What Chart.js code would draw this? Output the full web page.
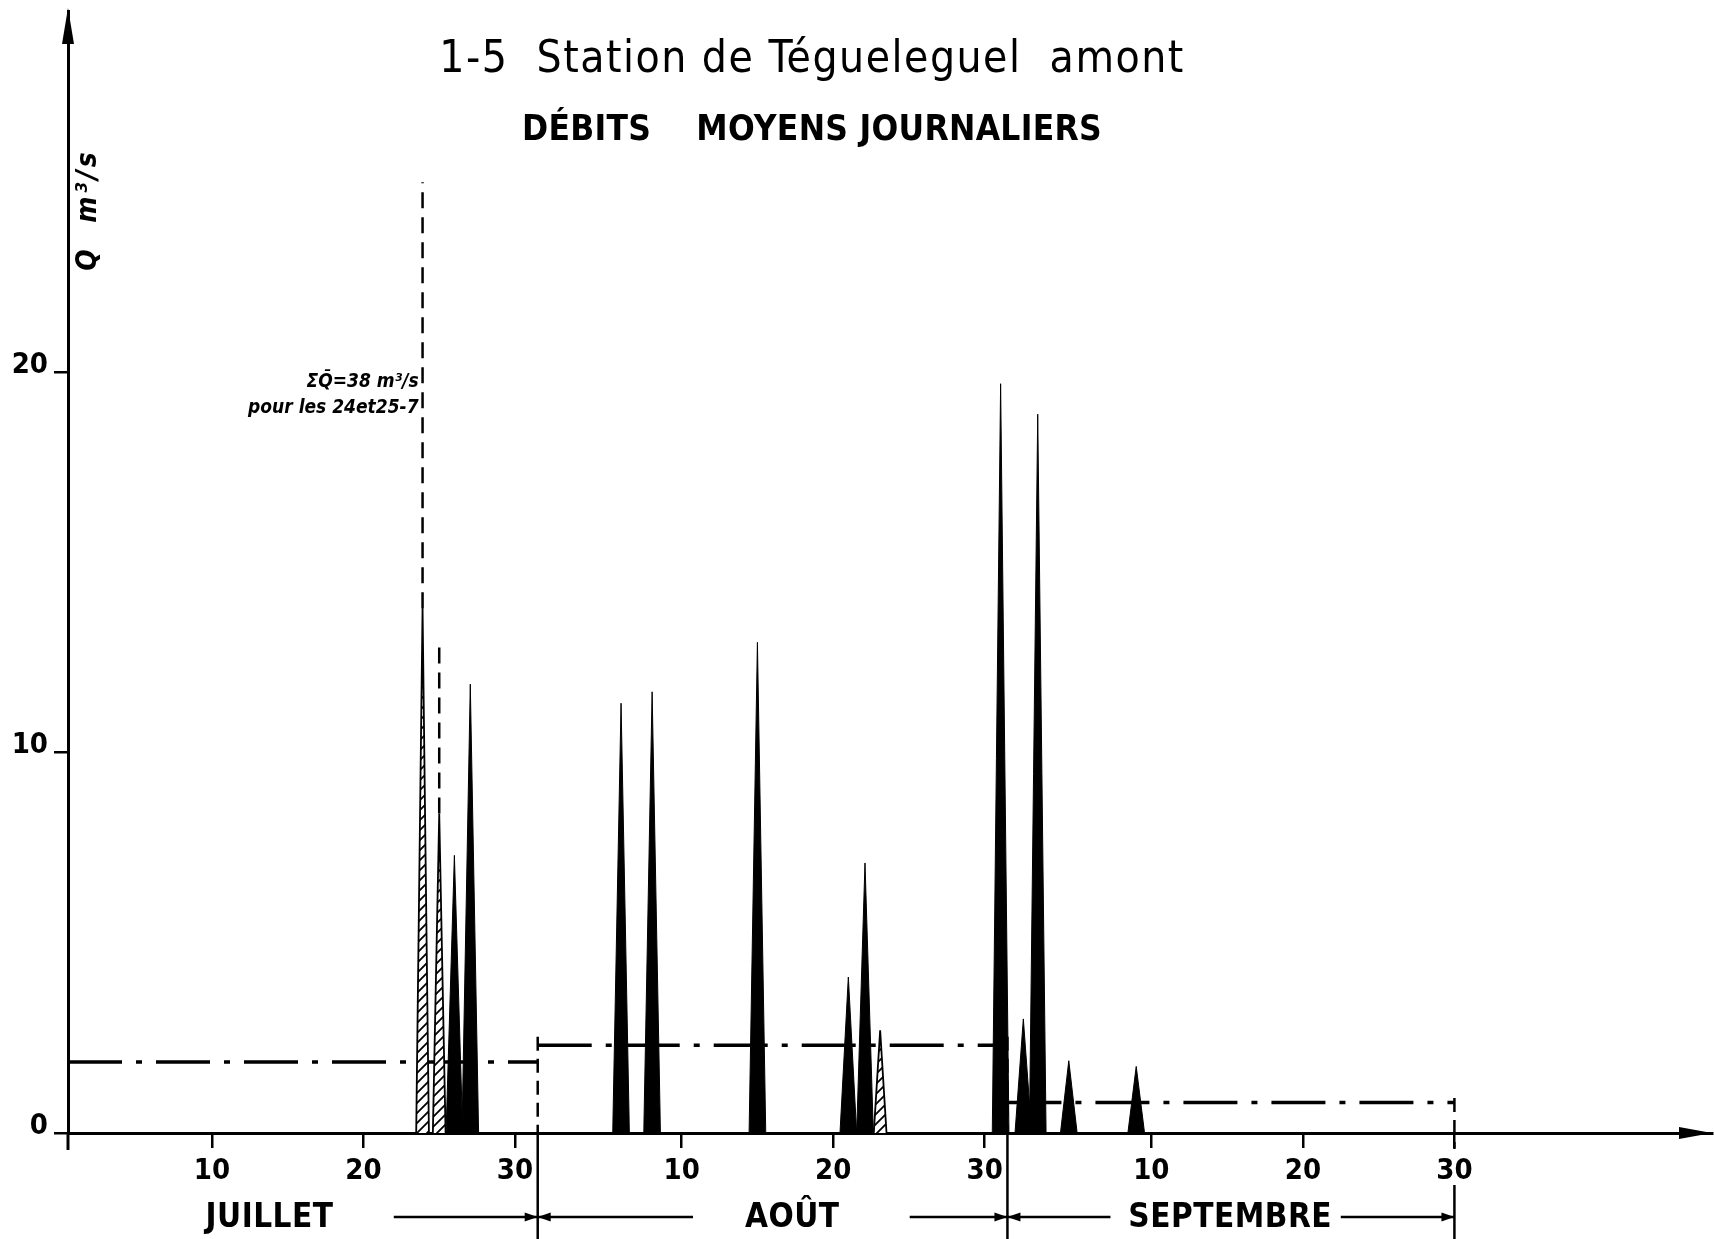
<!DOCTYPE html>
<html><head><meta charset="utf-8">
<script src="https://cdn.jsdelivr.net/npm/chart.js@4/dist/chart.umd.min.js"></script>
<style>html,body{margin:0;padding:0;background:#fff;} #wrap{width:1714px;height:1239px;position:relative;}</style>
</head><body><div id="wrap"><canvas id="c" width="1714" height="1239"></canvas></div>
<script>
// ---- data (x = day index counted from 1 July) ----
const spikeDays    = [23.9, 25.0, 26.0, 27.05, 37.0, 39.05, 46.0, 52.0, 53.1, 54.1, 62.05, 63.55, 64.5, 66.55, 71.0];
const spikeFlows   = [13.8, 8.4, 7.3, 11.8, 11.3, 11.6, 12.9, 4.1, 7.1, 2.7, 19.7, 3.0, 18.9, 1.9, 1.75];
const spikeHatched = [true, true, false, false, false, false, false, false, false, true, false, false, false, false, false];
const offScaleDays  = [23.9, 25.0];
const offScaleFlows = [25.0, 13.0];
const monthNames   = ['JUILLET', 'AOÛT', 'SEPTEMBRE'];
const monthStarts  = [0.5, 31.5, 62.5];
const monthEnds    = [31.5, 62.5, 92];
const monthlyMeans = [1.87, 2.31, 0.8];
const xTickValues  = [10, 20, 30, 41, 51, 61, 72, 82, 92];
const xTickLabels  = ['10', '20', '30', '10', '20', '30', '10', '20', '30'];
const yTickValues  = [0, 10, 20];
const yTickLabels  = ['0', '10', '20'];
const titleText    = '1-5  Station de Tégueleguel  amont';
const subtitleText = 'DÉBITS    MOYENS JOURNALIERS';
const yTitleText   = 'Q  m³/s';
const noteLines    = ['ΣQ̄=38 m³/s', 'pour les 24et25-7'];

// ---- styles ----
const FONT = "'Liberation Sans Narrow', 'DejaVu Sans Condensed', 'Liberation Sans', sans-serif";
const SOLID_HW = 0.55, HATCH_HW = 0.42;
const canvas = document.getElementById('c');
const ctx0 = canvas.getContext('2d');

function makeHatch() {
  const s = 10;
  const c = document.createElement('canvas'); c.width = s; c.height = s;
  const g = c.getContext('2d');
  g.fillStyle = '#fff'; g.fillRect(0, 0, s, s);
  g.strokeStyle = '#000'; g.lineWidth = 1.8;
  g.beginPath();
  g.moveTo(-1, s + 1); g.lineTo(s + 1, -1);
  g.moveTo(-1, 1); g.lineTo(1, -1);
  g.moveTo(s - 1, s + 1); g.lineTo(s + 1, s - 1);
  g.stroke();
  return ctx0.createPattern(c, 'repeat');
}
const hatch = makeHatch();

const datasets = [];
monthlyMeans.forEach((m, i) => {
  datasets.push({
    data: [{x: monthStarts[i], y: m}, {x: monthEnds[i], y: m}],
    borderColor: '#000', borderWidth: 3.5, borderDash: [54, 14, 6, 14],
    borderCapStyle: 'butt', pointRadius: 0, fill: false, order: 10
  });
});
spikeDays.forEach((d, i) => {
  const h = spikeHatched[i];
  const hw = h ? HATCH_HW : SOLID_HW;
  datasets.push({
    data: [{x: d - hw, y: 0}, {x: d, y: spikeFlows[i]}, {x: d + hw, y: 0}],
    borderColor: '#000', borderWidth: h ? 1.8 : 1,
    backgroundColor: h ? hatch : '#000',
    fill: 'origin', pointRadius: 0, tension: 0, order: h ? 4 : 5
  });
});
offScaleDays.forEach((d, i) => {
  const k = spikeDays.indexOf(d);
  datasets.push({
    data: [{x: d, y: k >= 0 ? spikeFlows[k] : 0}, {x: d, y: offScaleFlows[i]}],
    borderColor: '#000', borderWidth: 2.5, borderDash: [16, 9],
    pointRadius: 0, fill: false, order: 3
  });
});

function arrowLine(ctx, x0, x1, yy) {
  ctx.beginPath(); ctx.moveTo(x0, yy); ctx.lineTo(x1, yy); ctx.stroke();
  const dir = Math.sign(x1 - x0);
  ctx.beginPath();
  ctx.moveTo(x1, yy); ctx.lineTo(x1 - dir * 13, yy - 4.5); ctx.lineTo(x1 - dir * 13, yy + 4.5);
  ctx.closePath(); ctx.fill();
}

const monthLabelCenters = [13.8, 48.3, 77.2];
const monthArrows = [
  [[22.0, 31.5]],
  [[41.75, 31.5], [56.05, 62.5]],
  [[69.3, 62.5], [84.5, 92]]
];

const decor = {
  id: 'decor',
  beforeDatasetsDraw(chart) {
    const {ctx, chartArea: a, scales: {x, y}} = chart;
    ctx.save();
    ctx.strokeStyle = '#000'; ctx.lineWidth = 2.5; ctx.setLineDash([14, 8]);
    const tops = [Math.max(monthlyMeans[0], monthlyMeans[1]) + 0.22,
                  Math.max(monthlyMeans[1], monthlyMeans[2]) + 0.22,
                  monthlyMeans[2] + 0.12];
    monthEnds.forEach((e, i) => {
      const px = x.getPixelForValue(e);
      ctx.beginPath();
      ctx.moveTo(px, y.getPixelForValue(tops[i]));
      ctx.lineTo(px, a.bottom + (i === 2 ? 16 : 0));
      ctx.stroke();
    });
    ctx.restore();
  },
  afterDraw(chart) {
    const {ctx, chartArea: a, scales: {x, y}} = chart;
    const H = chart.height;
    ctx.save();
    ctx.fillStyle = '#000'; ctx.strokeStyle = '#000';
    // axis arrows
    ctx.beginPath();
    ctx.moveTo(a.left, a.top - 3); ctx.lineTo(a.left - 6, a.top + 33); ctx.lineTo(a.left + 6, a.top + 33);
    ctx.closePath(); ctx.fill();
    ctx.beginPath();
    ctx.moveTo(a.right, a.bottom); ctx.lineTo(a.right - 33, a.bottom - 6); ctx.lineTo(a.right - 33, a.bottom + 6);
    ctx.closePath(); ctx.fill();
    // y-axis extension below the origin
    ctx.lineWidth = 3;
    ctx.beginPath(); ctx.moveTo(a.left, a.bottom); ctx.lineTo(a.left, a.bottom + 17); ctx.stroke();
    // month separators below axis
    ctx.lineWidth = 2.5;
    monthEnds.forEach((e, i) => {
      const px = x.getPixelForValue(e);
      ctx.beginPath();
      ctx.moveTo(px, i === 2 ? a.bottom + 52 : a.bottom);
      ctx.lineTo(px, H);
      ctx.stroke();
    });
    // month labels and arrows
    const rowY = a.bottom + 84;
    ctx.font = 'bold 33px ' + FONT;
    ctx.letterSpacing = '0.5px';
    ctx.textAlign = 'center'; ctx.textBaseline = 'alphabetic';
    monthNames.forEach((n, i) => {
      ctx.fillText(n, x.getPixelForValue(monthLabelCenters[i]), a.bottom + 94);
      monthArrows[i].forEach(([s, e]) => arrowLine(ctx, x.getPixelForValue(s), x.getPixelForValue(e), rowY));
    });
    // titles
    ctx.letterSpacing = '1.5px';
    ctx.font = '44px ' + FONT;
    ctx.fillText(titleText, 812, 72);
    ctx.letterSpacing = '0.3px';
    ctx.font = 'bold 35px ' + FONT;
    ctx.fillText(subtitleText, 812, 140);
    // y axis title (rotated)
    ctx.save();
    ctx.translate(96, 210);
    ctx.rotate(-Math.PI / 2);
    ctx.letterSpacing = '3px';
    ctx.font = 'italic bold 28px ' + FONT;
    ctx.fillText(yTitleText, 0, 0);
    ctx.restore();
    // note near the off-scale days
    ctx.letterSpacing = '0px';
    ctx.textAlign = 'right';
    ctx.font = 'italic bold 19px ' + FONT;
    const nx = x.getPixelForValue(offScaleDays[0]) - 4;
    ctx.fillText(noteLines[0], nx, 387);
    ctx.fillText(noteLines[1], nx, 413);
    ctx.restore();
  }
};

new Chart(canvas, {
  type: 'line',
  data: {datasets},
  plugins: [decor],
  options: {
    responsive: false, animation: false, devicePixelRatio: 1,
    layout: {padding: {top: 11, right: 2, left: 0, bottom: 0}},
    plugins: {legend: {display: false}, tooltip: {enabled: false}, title: {display: false}},
    scales: {
      x: {
        type: 'linear', min: 0.5, max: 109,
        afterFit(s) { s.height = 106; s.paddingLeft = 0; s.paddingRight = 0; },
        afterBuildTicks(s) { s.ticks = xTickValues.map(v => ({value: v})); },
        ticks: {
          callback: (v, i) => xTickLabels[i], autoSkip: false, maxRotation: 0,
          font: {family: FONT, size: 29, weight: 'bold'}, color: '#000', padding: 6
        },
        grid: {drawOnChartArea: false, drawTicks: true, tickLength: 15, color: '#000', lineWidth: 2.5},
        border: {display: true, color: '#000', width: 3}
      },
      y: {
        type: 'linear', min: 0, max: 29.5,
        afterFit(s) { s.width = 68; s.paddingTop = 0; s.paddingBottom = 0; },
        afterBuildTicks(s) { s.ticks = yTickValues.map(v => ({value: v})); },
        ticks: {
          callback: (v, i) => yTickLabels[i],
          font: {family: FONT, size: 29, weight: 'bold'}, color: '#000', padding: 6, labelOffset: -7
        },
        grid: {drawOnChartArea: false, drawTicks: true, tickLength: 14, color: '#000', lineWidth: 2.5},
        border: {display: true, color: '#000', width: 3}
      }
    }
  }
});
</script></body></html>
